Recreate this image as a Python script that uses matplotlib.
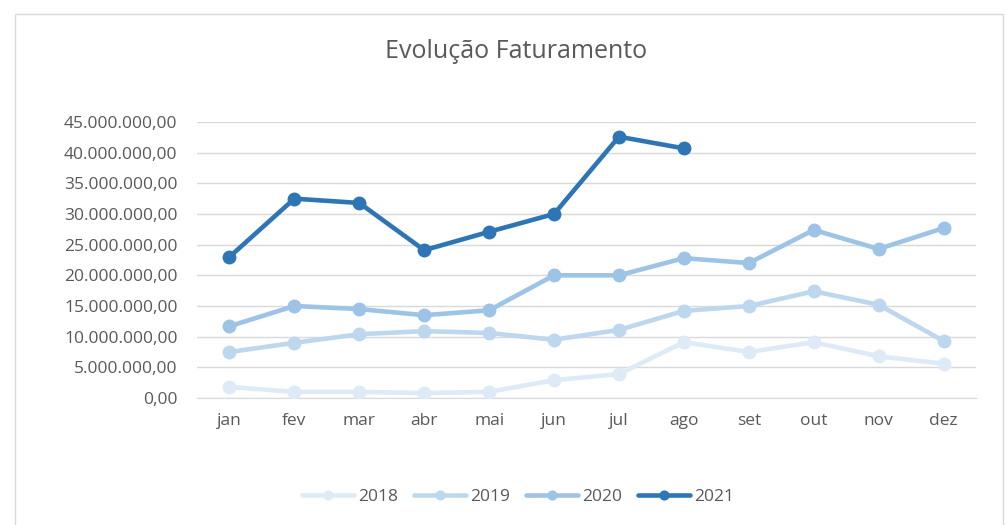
from matplotlib import pyplot as plt, patches
from matplotlib.ticker import FuncFormatter

meses = ["jan", "fev", "mar", "abr", "mai", "jun", "jul", "ago", "set", "out", "nov", "dez"]
anos = ["2018", "2019", "2020", "2021"]
v2018 = [1.8e6, 1.0e6, 1.0e6, 0.8e6, 1.0e6, 2.9e6, 3.9e6, 9.1e6, 7.5e6, 9.1e6, 6.8e6, 5.6e6]
v2019 = [7.5e6, 9.0e6, 10.4e6, 10.9e6, 10.6e6, 9.5e6, 11.1e6, 14.2e6, 15.0e6, 17.4e6, 15.2e6, 9.3e6]
v2020 = [11.7e6, 15.0e6, 14.5e6, 13.5e6, 14.3e6, 20.0e6, 20.0e6, 22.8e6, 22.0e6, 27.4e6, 24.3e6, 27.7e6]
v2021 = [23.0e6, 32.5e6, 31.8e6, 24.1e6, 27.1e6, 30.0e6, 42.6e6, 40.7e6]
cores = ["#DEEBF7", "#BDD7EE", "#9DC3E6", "#2E75B6"]

plt.rcParams["font.family"] = ["Open Sans", "DejaVu Sans"]

fig = plt.figure(figsize=(10.07, 5.25), dpi=100)
ax = fig.add_axes([197/1007, 1-398/525, (976-197)/1007, (398-122)/525])

# moldura do grafico
fig.patches.append(patches.Rectangle((15/1007, -0.05), (1003-15)/1007, 1-14/525+0.05,
                                     transform=fig.transFigure, fill=False,
                                     edgecolor="#D9D9D9", linewidth=1))

for nome, vals, cor in zip(anos, [v2018, v2019, v2020, v2021], cores):
  ax.plot(range(len(vals)), vals, color=cor, linewidth=3.3, marker="o",
          markersize=9, label=nome, solid_capstyle="round", zorder=3)

ax.set_xlim(-0.5, 11.5)
ax.set_ylim(0, 45e6)
ax.set_yticks([i*5e6 for i in range(10)])
ax.yaxis.set_major_formatter(FuncFormatter(
  lambda v, p: f"{v:,.2f}".replace(",", "X").replace(".", ",").replace("X", ".")))
ax.set_xticks(range(12))
ax.set_xticklabels(meses)
ax.grid(axis="y", color="#D9D9D9", linewidth=1)
ax.set_axisbelow(True)
for s in ["top", "right", "left"]:
  ax.spines[s].set_visible(False)
ax.spines["bottom"].set_color("#D9D9D9")
ax.tick_params(length=0, labelsize=12.5, colors="#595959", pad=11)
ax.tick_params(axis="y", pad=14)

fig.text(516/1007, 1-52/525, "Evolução Faturamento", ha="center", va="center",
         fontsize=18, color="#595959")
fig.legend(loc="center", bbox_to_anchor=(518/1007, 1-497/525), ncol=4, frameon=False,
           fontsize=12.5, labelcolor="#595959", handlelength=3.0, columnspacing=0.95,
           handletextpad=0.2, markerscale=0.7)

fig.savefig("out.png", dpi=100)
